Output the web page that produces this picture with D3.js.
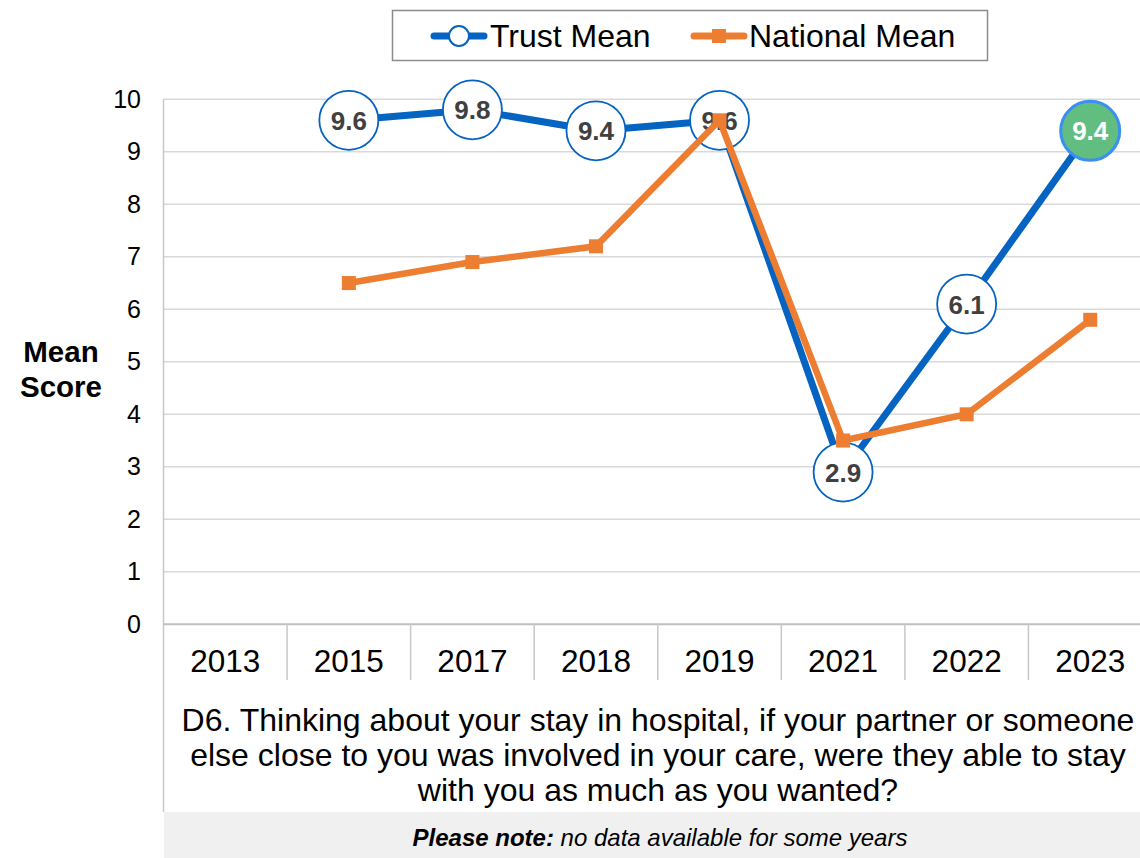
<!DOCTYPE html>
<html>
<head>
<meta charset="utf-8">
<script src="https://cdn.jsdelivr.net/npm/d3@7"></script>
<style>
  html, body { margin: 0; padding: 0; background: #fff; }
  svg { display: block; font-family: "Liberation Sans", Arial, sans-serif; }
</style>
</head>
<body>
<svg id="chart" width="1140" height="858"></svg>
<script>
// Survey years shown on the category axis
const years = ["2013", "2015", "2017", "2018", "2019", "2021", "2022", "2023"];
// Trust mean score per year (null = no data)
const trustMean = [null, 9.6, 9.8, 9.4, 9.6, 2.9, 6.1, 9.4];
// National mean score per year (null = no data)
const nationalMean = [null, 6.5, 6.9, 7.2, 9.6, 3.5, 4.0, 5.8];
// Y axis ticks
const yTicks = [0, 1, 2, 3, 4, 5, 6, 7, 8, 9, 10];
// Question text, one entry per line
const questionLines = [
  "D6. Thinking about your stay in hospital, if your partner or someone",
  "else close to you was involved in your care, were they able to stay",
  "with you as much as you wanted?"
];
const seriesNames = ["Trust Mean", "National Mean"];

const BLUE = "#0563c1", ORANGE = "#ed7d31", GREEN = "#62bd80", GRID = "#d9d9d9";

const svg = d3.select("#chart");

const x = d3.scaleBand().domain(years).range([163.5, 1152]).padding(0);
const y = d3.scaleLinear().domain([0, 10]).range([624.3, 99.3]);
const cx = d => x(d) + x.bandwidth() / 2;

// horizontal gridlines
svg.append("g").selectAll("line").data(yTicks.filter(t => t > 0)).join("line")
  .attr("x1", 163.5).attr("x2", 1140)
  .attr("y1", d => y(d)).attr("y2", d => y(d))
  .attr("stroke", GRID).attr("stroke-width", 1.5);

// y tick labels
svg.append("g").selectAll("text").data(yTicks).join("text")
  .attr("x", 141).attr("y", d => y(d) + 8.5)
  .attr("text-anchor", "end").attr("font-size", 25).attr("fill", "#000")
  .text(d => d);

// y axis title
const yTitle = svg.append("text").attr("text-anchor", "middle")
  .attr("font-size", 29.5).attr("font-weight", "bold").attr("fill", "#000");
yTitle.append("tspan").attr("x", 61).attr("y", 362).text("Mean");
yTitle.append("tspan").attr("x", 61).attr("y", 397).text("Score");

// vertical axis line down through the category/question area
svg.append("line").attr("x1", 163.5).attr("x2", 163.5).attr("y1", 99.3).attr("y2", 812)
  .attr("stroke", "#c8c8c8").attr("stroke-width", 1.5);
// baseline
svg.append("line").attr("x1", 163.5).attr("x2", 1140).attr("y1", y(0)).attr("y2", y(0))
  .attr("stroke", "#c0c0c0").attr("stroke-width", 2);

// category dividers
svg.append("g").selectAll("line").data(years.slice(1)).join("line")
  .attr("x1", d => x(d)).attr("x2", d => x(d))
  .attr("y1", y(0)).attr("y2", 680)
  .attr("stroke", "#c8c8c8").attr("stroke-width", 1.5);

// category labels
svg.append("g").selectAll("text").data(years).join("text")
  .attr("x", d => cx(d)).attr("y", 672)
  .attr("text-anchor", "middle").attr("font-size", 31.5).attr("fill", "#000")
  .text(d => d);

// question text
svg.append("g").selectAll("text").data(questionLines).join("text")
  .attr("x", 658).attr("y", (d, i) => 731 + i * 35)
  .attr("text-anchor", "middle").attr("font-size", 32).attr("fill", "#000")
  .text(d => d);

// note band
svg.append("rect").attr("x", 164).attr("y", 812).attr("width", 976).attr("height", 46)
  .attr("fill", "#f0f0f0");
const note = svg.append("text").attr("x", 660).attr("y", 846)
  .attr("text-anchor", "middle").attr("font-size", 24).attr("font-style", "italic").attr("fill", "#000");
note.append("tspan").attr("font-weight", "bold").text("Please note:");
note.append("tspan").text(" no data available for some years");

// series data
const trustPts = years.map((yr, i) => ({ yr, v: trustMean[i], last: i === years.length - 1 }));
const natPts = years.map((yr, i) => ({ yr, v: nationalMean[i] }));

const line = d3.line().defined(d => d.v != null).x(d => cx(d.yr)).y(d => y(d.v));

// trust line
svg.append("path").datum(trustPts).attr("d", line)
  .attr("fill", "none").attr("stroke", BLUE).attr("stroke-width", 7)
  .attr("stroke-linejoin", "round");

// trust labelled markers
const tm = svg.append("g").selectAll("g").data(trustPts.filter(d => d.v != null)).join("g")
  .attr("transform", d => `translate(${cx(d.yr)},${y(d.v)})`);
tm.append("circle").attr("r", 29.5)
  .attr("fill", d => d.last ? GREEN : "#fff")
  .attr("stroke", d => d.last ? "#3b8ff0" : BLUE)
  .attr("stroke-width", d => d.last ? 3 : 1.8);
tm.append("text").attr("text-anchor", "middle").attr("y", 9.5)
  .attr("font-size", 26).attr("font-weight", "bold")
  .attr("fill", d => d.last ? "#fff" : "#404040")
  .text(d => d3.format(".1f")(d.v));

// national line and square markers
svg.append("path").datum(natPts).attr("d", line)
  .attr("fill", "none").attr("stroke", ORANGE).attr("stroke-width", 6.5)
  .attr("stroke-linejoin", "miter");
svg.append("g").selectAll("rect").data(natPts.filter(d => d.v != null)).join("rect")
  .attr("x", d => cx(d.yr) - 7).attr("y", d => y(d.v) - 7)
  .attr("width", 14).attr("height", 14).attr("fill", ORANGE);

// legend
const lg = svg.append("g");
lg.append("rect").attr("x", 392.5).attr("y", 10.5).attr("width", 595).attr("height", 50)
  .attr("fill", "#fff").attr("stroke", "#8c8c8c").attr("stroke-width", 1.5);
// trust entry
lg.append("line").attr("x1", 434).attr("x2", 484).attr("y1", 36).attr("y2", 36)
  .attr("stroke", BLUE).attr("stroke-width", 7).attr("stroke-linecap", "round");
lg.append("circle").attr("cx", 459).attr("cy", 36).attr("r", 10)
  .attr("fill", "#fff").attr("stroke", BLUE).attr("stroke-width", 2);
lg.append("text").attr("x", 490).attr("y", 47).attr("font-size", 32).attr("fill", "#000")
  .text(seriesNames[0]);
// national entry
lg.append("line").attr("x1", 694).attr("x2", 744).attr("y1", 36).attr("y2", 36)
  .attr("stroke", ORANGE).attr("stroke-width", 7).attr("stroke-linecap", "round");
lg.append("rect").attr("x", 712).attr("y", 29).attr("width", 14).attr("height", 14).attr("fill", ORANGE);
lg.append("text").attr("x", 749).attr("y", 47).attr("font-size", 32).attr("fill", "#000")
  .text(seriesNames[1]);
</script>
</body>
</html>
